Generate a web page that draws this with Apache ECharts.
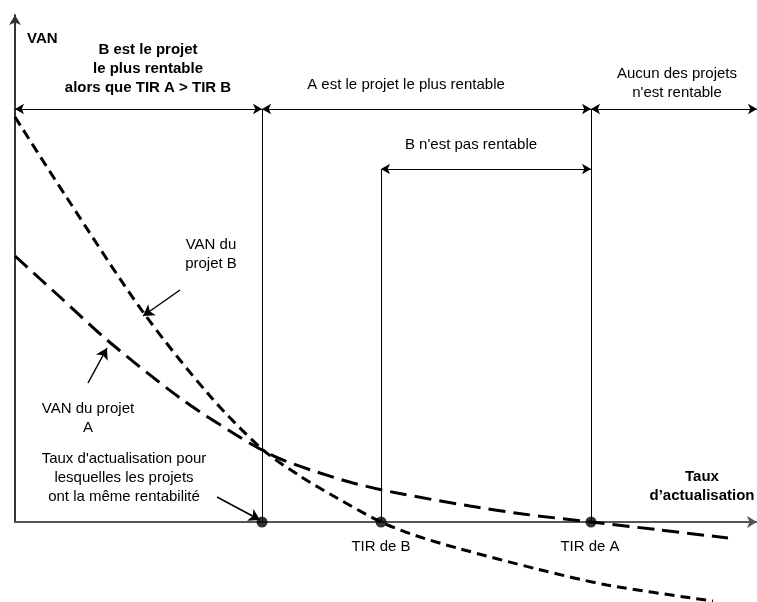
<!DOCTYPE html>
<html>
<head>
<meta charset="utf-8">
<script src="https://cdn.jsdelivr.net/npm/echarts@6/dist/echarts.min.js"></script>
<style>
html,body{margin:0;padding:0;background:#fff;}
#chart{width:757px;height:602px;}
</style>
</head>
<body>
<div id="chart"></div>
<script>
// Discount rate (x) vs NPV (y), in chart units
const curveB = [[0,405],[52,324],[128,210],[195,126],[247,73],[285,46],[322,24],[366,0],[402,-14],[442,-26],[522,-47],[592,-63],[698,-79]];
const curveA = [[0,266],[45,225],[92,182],[165,124],[218,89],[247,72],[268,62],[305,49],[338,39],[382,29],[455,16],[508,8],[576,0],[645,-8],[713,-16]];
const crossRate = 247;
const tirB = 366;
const tirA = 576;
const rateMax = 742;
const vanMax = 507;
const topBand = 413;
const lowBand = 353;
const pointerB = [[165,232],[128,206]];
const pointerA = [[73,139],[92,174]];
const pointerCross = [[202,25],[245,2]];

const chart = echarts.init(document.getElementById('chart'), null, {renderer:'canvas'});
const FONT = '"Liberation Sans", Arial, sans-serif';
const thin = {color:'#000', width:1, type:'solid'};
const ptr = {color:'#000', width:1.5, type:'solid'};

function seg(a, b, s1, s2, style, size) {
  const e1 = {coord:a, symbol:s1, lineStyle:style};
  const e2 = {coord:b, symbol:s2, lineStyle:style};
  if (size) { e1.symbolSize = size; e2.symbolSize = size; }
  return [e1, e2];
}

const markData = [
  seg([crossRate,0],[crossRate,topBand],'none','none',thin),
  seg([tirB,0],[tirB,lowBand],'none','none',thin),
  seg([tirA,0],[tirA,topBand],'none','none',thin),
  seg([0,topBand],[crossRate,topBand],'arrow','arrow',thin),
  seg([crossRate,topBand],[tirA,topBand],'arrow','arrow',thin),
  seg([tirA,topBand],[rateMax,topBand],'arrow','arrow',thin),
  seg([tirB,lowBand],[tirA,lowBand],'arrow','arrow',thin),
  seg(pointerB[0],pointerB[1],'none','arrow',ptr,[10,11]),
  seg(pointerA[0],pointerA[1],'none','arrow',ptr,[10,11]),
  seg(pointerCross[0],pointerCross[1],'none','arrow',ptr,[10,11])
];

function txt(x, y, text, bold) {
  return {
    type:'text', x:x, y:y, z:100,
    style:{
      text:text, fill:'#000',
      font:(bold?'bold ':'') + '15px ' + FONT,
      textAlign:'center', textVerticalAlign:'middle',
      lineHeight:19
    }
  };
}

const option = {
  animation:false,
  backgroundColor:'#fff',
  grid:{left:15, right:0, top:15, bottom:80},
  xAxis:{
    type:'value', min:0, max:rateMax,
    axisLine:{show:true, symbol:['none','arrow'], symbolSize:[9,10], lineStyle:{color:'#555', width:2}},
    axisTick:{show:false}, axisLabel:{show:false}, splitLine:{show:false}
  },
  yAxis:{
    type:'value', min:0, max:vanMax,
    axisLine:{show:true, symbol:['none','arrow'], symbolSize:[9,10], lineStyle:{color:'#333', width:2}},
    axisTick:{show:false}, axisLabel:{show:false}, splitLine:{show:false}
  },
  series:[
    {
      type:'line', data:curveB, smooth:0.3, symbol:'none', clip:false,
      lineStyle:{color:'#000', width:3, type:[10,6]}
    },
    {
      type:'line', data:curveA, smooth:0.3, symbol:'none', clip:false,
      lineStyle:{color:'#000', width:3, type:[17,8]}
    },
    {
      type:'scatter', data:[[crossRate,0],[tirB,0],[tirA,0]],
      symbolSize:11, itemStyle:{color:'#000'}, z:10,
      markLine:{
        silent:true, symbolSize:[8,9],
        label:{show:false},
        emphasis:{disabled:true},
        data:markData
      }
    }
  ],
  graphic:[
    {type:'text', left:27, top:31, z:100, style:{text:'VAN', fill:'#000', font:'bold 15px ' + FONT}},
    txt(148, 69, 'B est le projet\nle plus rentable\nalors que TIR A > TIR B', true),
    txt(406, 85, 'A est le projet le plus rentable', false),
    txt(677, 83, 'Aucun des projets\nn\'est rentable', false),
    txt(471, 145, 'B n\'est pas rentable', false),
    txt(211, 254, 'VAN du\nprojet B', false),
    txt(88, 418, 'VAN du projet\nA', false),
    txt(124, 478, 'Taux d\'actualisation pour\nlesquelles les projets\nont la même rentabilité', false),
    txt(381, 547, 'TIR de B', false),
    txt(590, 547, 'TIR de A', false),
    txt(702, 486, 'Taux\nd\u2019actualisation', true)
  ]
};
chart.setOption(option);
</script>
</body>
</html>
